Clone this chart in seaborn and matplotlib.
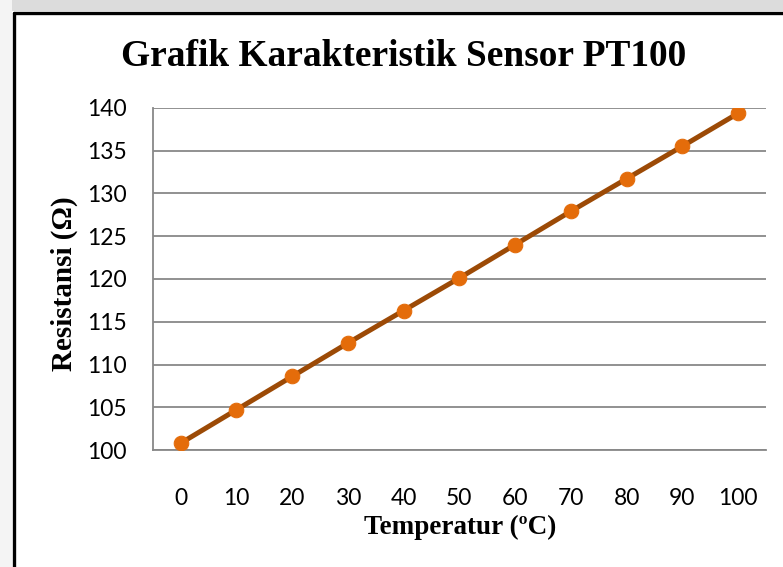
import matplotlib
matplotlib.use("Agg")
import matplotlib.pyplot as plt
import seaborn as sns
import pandas as pd
from matplotlib.patches import Rectangle
from matplotlib.lines import Line2D
from matplotlib.ticker import FixedLocator

# ---- data ----
temperatures = ["0", "10", "20", "30", "40", "50", "60", "70", "80", "90", "100"]
resistance = [100.8, 104.7, 108.6, 112.5, 116.3, 120.1, 124.0, 127.9, 131.7, 135.5, 139.35]
y_ticks = [100, 105, 110, 115, 120, 125, 130, 135, 140]

title = "Grafik Karakteristik Sensor PT100"
xlabel = "Temperatur (ºC)"
ylabel = "Resistansi (Ω)"

df = pd.DataFrame({"Temperatur": temperatures, "Resistansi": resistance})

sns.set_style("white")
plt.rcParams["font.family"] = ["Lato", "DejaVu Sans"]
plt.rcParams["text.color"] = "black"
plt.rcParams["xtick.color"] = "black"
plt.rcParams["ytick.color"] = "black"
plt.rcParams["axes.labelcolor"] = "black"

fig = plt.figure(figsize=(7.83, 5.67), dpi=100)
fig.patch.set_facecolor("white")

# page background strip and chart border
fig.patches.append(Rectangle((0, 1 - 11 / 567), 1, 11 / 567, transform=fig.transFigure,
                             facecolor="#dcdcdc", edgecolor="none", zorder=0))
fig.patches.append(Rectangle((0, 0), 12 / 783, 1, transform=fig.transFigure,
                             facecolor="#f4f4f4", edgecolor="none", zorder=0))
fig.lines.append(Line2D([13.5 / 783, 1], [1 - 12.5 / 567, 1 - 12.5 / 567], transform=fig.transFigure,
                        color="black", linewidth=2.4, zorder=5))
fig.lines.append(Line2D([13.5 / 783, 13.5 / 783], [0, 1 - 12.5 / 567], transform=fig.transFigure,
                        color="black", linewidth=2.4, zorder=5))

ax = fig.add_axes([152.7 / 783, 1 - 450.1 / 567, (766 - 152.7) / 783, (450.1 - 107.7) / 567])

sns.lineplot(data=df, x="Temperatur", y="Resistansi", ax=ax, color="#9c4a06",
             linewidth=3.6, marker="o", markersize=10.5, markerfacecolor="#e46c0a",
             markeredgecolor="#e46c0a", sort=False, zorder=4)

ax.set_xlim(-0.5, len(temperatures) - 0.5)
ax.set_ylim(100, 140)
ax.set_yticks(y_ticks)
ax.set_yticklabels([str(v) for v in y_ticks])
ax.grid(axis="y", color="#888888", linewidth=1.3)
ax.set_axisbelow(True)

for s in ["top", "right"]:
    ax.spines[s].set_visible(False)
for s in ["left", "bottom"]:
    ax.spines[s].set_color("#888888")
    ax.spines[s].set_linewidth(1.3)

ax.xaxis.set_minor_locator(FixedLocator([i - 0.5 for i in range(len(temperatures) + 1)]))
ax.tick_params(axis="x", which="major", length=0, pad=27, labelsize=16.5, labelcolor="black")
ax.tick_params(axis="x", which="minor", length=6, width=1.3, color="#888888", direction="out")
ax.tick_params(axis="y", length=7, width=1.3, color="#888888", direction="out", pad=11.5,
               labelsize=16.5, labelcolor="black")

ax.set_xlabel(xlabel, fontfamily="Liberation Serif", fontweight="bold", fontsize=19.5,
              color="black", va="center")
ax.xaxis.set_label_coords((460 - 152.7) / 613.3, (450.1 - 527) / 342.4)
ax.set_ylabel(ylabel, fontfamily="Liberation Serif", fontweight="bold", fontsize=21,
              color="black", va="center")
ax.yaxis.set_label_coords((64 - 152.7) / 613.3, (450.1 - 284) / 342.4)

fig.text(404 / 783, 1 - 57 / 567, title, ha="center", va="center", color="black",
         fontfamily="Liberation Serif", fontweight="bold", fontsize=26.9)

fig.savefig("out.png", dpi=100)
